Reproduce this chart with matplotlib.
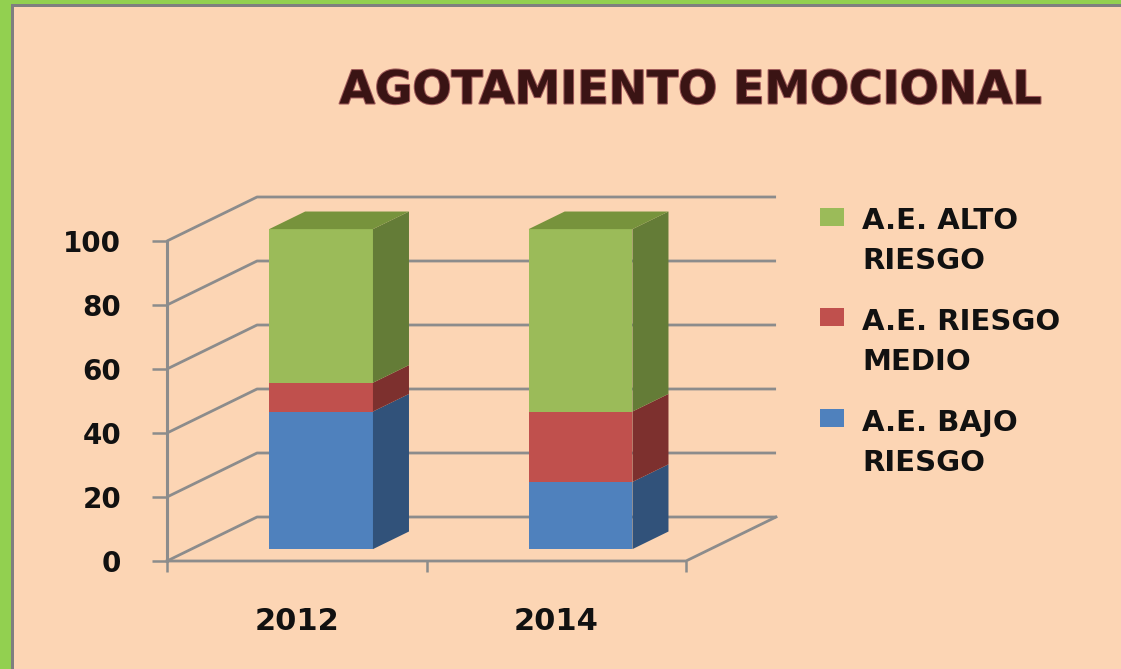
import matplotlib
matplotlib.use("Agg")
import matplotlib.pyplot as plt
from matplotlib.patches import Rectangle
import matplotlib.patheffects as pe

# ---- data ----
categories = ['2012', '2014']
bajo = [43, 21]
medio = [9, 22]
alto = [48, 57]
series_labels = ['A.E. ALTO\nRIESGO', 'A.E. RIESGO\nMEDIO', 'A.E. BAJO\nRIESGO']
y_ticks = [0, 20, 40, 60, 80, 100]
title = 'AGOTAMIENTO EMOCIONAL'

# ---- style ----
PEACH = '#FCD5B4'
GREEN_BORDER = '#92D050'
GRAY_BORDER = '#7F7F7F'
GRID = '#8C8C8C'
front_cols = {'bajo': '#4F81BD', 'medio': '#C0504D', 'alto': '#9BBB59'}
side_cols = {'bajo': '#31527A', 'medio': '#7D302E', 'alto': '#647C37'}
top_col = '#77933C'

W, H = 1121, 669
fig = plt.figure(figsize=(W / 100, H / 100), dpi=100, facecolor=PEACH)

# frame
fig.add_artist(Rectangle((0, 0), 11 / W, 1, transform=fig.transFigure, color=GREEN_BORDER, lw=0))
fig.add_artist(Rectangle((0, 1 - 4 / H), 1, 4 / H, transform=fig.transFigure, color=GREEN_BORDER, lw=0))
fig.add_artist(Rectangle((11 / W, 0), 3 / W, 1 - 4 / H, transform=fig.transFigure, color=GRAY_BORDER, lw=0))
fig.add_artist(Rectangle((11 / W, 1 - 7 / H), 1, 3 / H, transform=fig.transFigure, color=GRAY_BORDER, lw=0))

# geometry of pseudo-3D
DDX = 0.347     # depth offset in x units
DDY = 13.75     # depth offset in y units
F1 = 0.27       # bar front position in depth fraction
FD = 0.40       # bar depth fraction
BW = 0.40       # bar width

x_lo, x_hi = -0.5, 1.5 + DDX
y_lo, y_hi = 0, 100 + DDY
px_x = 259.5
px_y = 3.2
ax_w = (x_hi - x_lo) * px_x
ax_h = (y_hi - y_lo) * px_y
ax = fig.add_axes([167 / W, (H - 561) / H, ax_w / W, ax_h / H])
ax.set_facecolor('none')
ax.set_xlim(x_lo, x_hi)
ax.set_ylim(y_lo, y_hi)
for s in ax.spines.values():
    s.set_visible(False)

# walls & gridlines
for v in y_ticks:
    ax.plot([-0.5, -0.5 + DDX, 1.5 + DDX], [v, v + DDY, v + DDY], color=GRID, lw=2.0,
            clip_on=False, zorder=1, solid_capstyle='butt')
ax.plot([-0.5, 1.5, 1.5 + DDX], [0, 0, DDY], color=GRID, lw=2.0, clip_on=False, zorder=1)
ax.plot([-0.5, -0.5], [0, 100], color=GRID, lw=2.2, clip_on=False, zorder=1)

# bars
stack = [('bajo', bajo), ('medio', medio), ('alto', alto)]
ddx, ddy = FD * DDX, FD * DDY
fx, fy = F1 * DDX, F1 * DDY
for i in range(len(categories)):
    b = 0
    for key, vals in stack:
        h = vals[i]
        xc = i + fx
        ax.bar(xc, h, bottom=b + fy, width=BW, color=front_cols[key], lw=0, zorder=3)
        x0 = xc + BW / 2
        ax.fill([x0, x0 + ddx, x0 + ddx, x0],
                [b + fy, b + fy + ddy, b + h + fy + ddy, b + h + fy],
                color=side_cols[key], lw=0, zorder=3)
        b += h
    xl, xr = i + fx - BW / 2, i + fx + BW / 2
    ax.fill([xl, xl + ddx, xr + ddx, xr], [b + fy, b + fy + ddy, b + fy + ddy, b + fy],
            color=top_col, lw=0, zorder=3)

# ticks
ax.set_yticks(y_ticks)
ax.tick_params(axis='y', length=11, width=1.8, color=GRID, pad=22, labelsize=20)
ax.set_xticks(range(len(categories)))
ax.set_xticklabels(categories)
ax.set_xticks([-0.5, 0.5, 1.5], minor=True)
ax.tick_params(axis='x', which='major', length=0, pad=33, labelsize=22)
ax.tick_params(axis='x', which='minor', length=8, width=1.8, color=GRID)
for lbl in ax.get_yticklabels() + ax.get_xticklabels():
    lbl.set_fontweight('bold')
    lbl.set_color('#111111')

# title
fig.text(691 / W, 1 - 91 / H, title, ha='center', va='center', fontsize=33,
         fontweight='bold', color='#3A1414',
         path_effects=[pe.withStroke(linewidth=1.5, foreground='#A05A5A')])

# legend (manual)
leg_cols = [front_cols['alto'], front_cols['medio'], front_cols['bajo']]
base_first = [229, 330, 431]
sq_top = [208, 308, 409]
for k, lab in enumerate(series_labels):
    fig.add_artist(Rectangle((820 / W, 1 - (sq_top[k] + 18) / H), 24 / W, 18 / H,
                             transform=fig.transFigure, color=leg_cols[k], lw=0))
    for j, line in enumerate(lab.split('\n')):
        fig.text(862 / W, 1 - (base_first[k] + 40 * j) / H, line, ha='left', va='baseline',
                 fontsize=21, fontweight='bold', color='#111111')

fig.savefig('out.png', dpi=100, facecolor=PEACH)
